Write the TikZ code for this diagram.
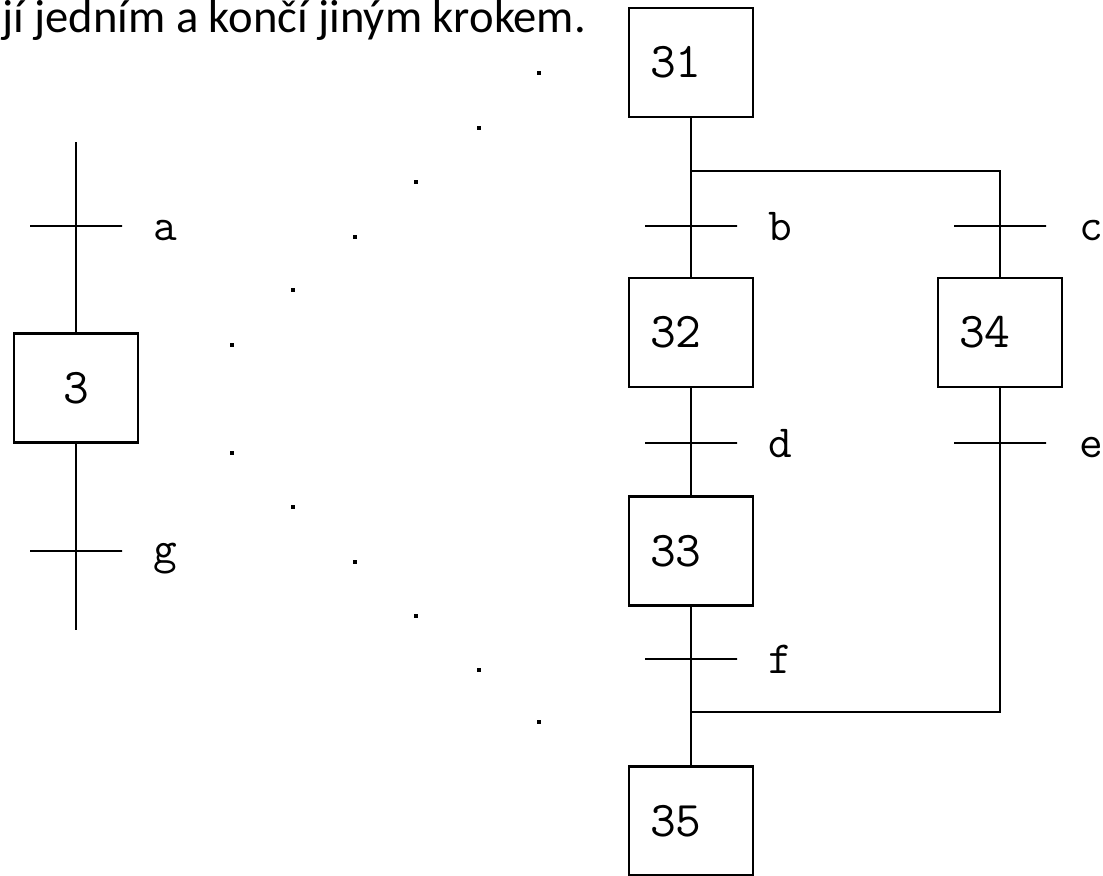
\documentclass[tikz,border=0pt]{standalone}
\usepackage{fontspec}
\setmainfont{Carlito}
\usetikzlibrary{positioning}

\tikzset{
  stepbox/.style={draw, minimum width=62pt, minimum height=54.5pt, inner sep=0pt,
    text width=41pt, align=left, font=\ttfamily\fontsize{25}{25}\selectfont},
  trans/.style={draw, minimum width=46pt, minimum height=0pt, inner sep=0pt, outer sep=0pt},
  cond/.style={anchor=base west, inner sep=0pt, font=\ttfamily\fontsize{23}{23}\selectfont},
  dot/.style={fill, rectangle, inner sep=0pt, minimum width=2.4pt, minimum height=1.6pt}
}

\begin{document}
\begin{tikzpicture}[x=0.5pt,y=-0.5pt,line width=1.3pt]
  \useasboundingbox (0,0) rectangle (1103,875);

  \node[anchor=base east,font=\fontsize{23.3}{28}\selectfont] (title) at (594,32) {jí jedním a končí jiným krokem.};

  % single step with its two transitions
  \coordinate (top3) at (76,142);
  \coordinate (bot3) at (76,630);
  \node[trans] (ta) at (76,226) {};
  \node[stepbox,align=center] (s3) at (76,388) {3};
  \node[trans] (tg) at (76,551) {};
  \node[cond] (la) at (152,240) {a};
  \node[cond] (lg) at (152,563) {g};
  \draw (top3) -- (ta.center) -- (s3.north);
  \draw (s3.south) -- (tg.center) -- (bot3);

  % dotted zoom lines
  \foreach \x/\y [count=\i] in {539/73,479/128,416/182,355/237,293/290,232/345,
      232/453,293/507,355/562,416/616,479/670,539/722}
    \node[dot] (dot\i) at (\x,\y) {};

  % expanded macro step
  \node[stepbox] (s31) at (691,62.5) {31};
  \node[trans] (tb) at (691,226) {};
  \node[stepbox] (s32) at (691,332.5) {32};
  \node[trans] (td) at (691,443) {};
  \node[stepbox] (s33) at (691,551) {33};
  \node[trans] (tf) at (691,659) {};
  \node[stepbox] (s35) at (691,821) {35};

  \node[trans] (tc) at (1000,226) {};
  \node[stepbox] (s34) at (1000,332.5) {34};
  \node[trans] (te) at (1000,443) {};

  \coordinate (split) at (691,171);
  \coordinate (join) at (691,712);

  \node[cond] (lb) at (767,240) {b};
  \node[cond] (ld) at (767,457) {d};
  \node[cond] (lf) at (767,673) {f};
  \node[cond] (lc) at (1078,240) {c};
  \node[cond] (le) at (1078,457) {e};

  \draw (s31.south) -- (tb.center) -- (s32.north);
  \draw (s32.south) -- (td.center) -- (s33.north);
  \draw (s33.south) -- (tf.center) -- (s35.north);
  \draw (split) -| (tc.center) -- (s34.north);
  \draw (s34.south) -- (te.center) |- (join);
\end{tikzpicture}
\end{document}
